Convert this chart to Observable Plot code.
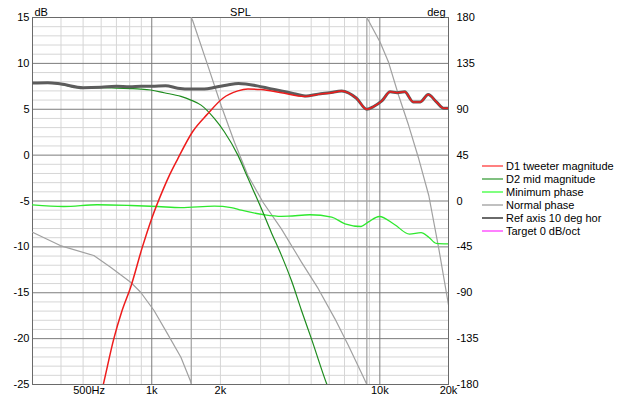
<!DOCTYPE html>
<html><head><meta charset="utf-8">
<script src="https://cdn.jsdelivr.net/npm/d3@7"></script>
<script src="https://cdn.jsdelivr.net/npm/@observablehq/plot@0.6"></script>
<style>
html,body{margin:0;padding:0;background:#fff;}
#wrap{position:relative;width:618px;height:399px;font-family:"Liberation Sans",Arial,sans-serif;font-size:11px;color:#000;}
#legend{position:absolute;left:482px;top:159px;}
.row{height:13.1px;display:flex;align-items:center;white-space:nowrap;}
.sw{width:21px;height:2px;margin-right:3px;}
</style></head><body><div id="wrap"></div>
<script>
// ---- data ----
const refFreq = [300,350,400,500,600,700,800,900,1000,1150,1300,1500,1700,1900,2150,2400,2900,3300,3700,4200,4700,5500,6000,6800,7900,8760,9400,10200,11100,11900,12850,14000,15050,16300,17700,19100,20000];
const refDb   = [7.85,7.9,7.75,7.35,7.4,7.5,7.45,7.5,7.5,7.55,7.3,7.2,7.2,7.4,7.65,7.8,7.55,7.25,7.0,6.7,6.45,6.7,6.8,7.0,6.2,5.0,5.3,5.9,6.9,6.8,6.9,5.8,5.8,6.6,5.8,5.1,5.1];

const d1Freq = [560,613,682,740,808,910,1000,1115,1200,1300,1510,1760,2050,2385,2640,3020,3700,4690,5500,6150,6800,7900,8760,9400,10200,11100,11900,12850,14000,15050,16300,17700,19100,20000];
const d1Db   = [-29,-25,-20,-17,-14.4,-10,-6.9,-3.9,-2.1,-0.4,2.55,4.5,6.2,7.0,7.2,7.15,6.8,6.4,6.65,6.8,7.0,6.2,5.0,5.3,5.9,6.9,6.8,6.9,5.8,5.8,6.6,5.8,5.1,5.1];

const d2Freq = [300,350,400,500,600,700,808,894,990,1133,1342,1485,1645,1880,2080,2385,2640,3020,3340,3700,4100,4530,5010,5840,6300];
const d2Db   = [7.85,7.9,7.7,7.3,7.35,7.3,7.25,7.2,7.1,6.8,6.4,6.0,5.45,4.0,2.55,0,-2.5,-5.8,-8.4,-10.9,-13.7,-16.9,-20,-24.9,-27];

const minFreq = [300,411,576,808,1060,1342,1881,2230,2470,3124,3700,3960,4930,6150,7033,8275,8917,9950,11590,13490,15160,16390,17650,20000];
const minDeg  = [-3.7,-5.4,-3.7,-4.4,-5.4,-6.5,-5.1,-6.4,-9.0,-13.5,-15.0,-14.9,-13.5,-15.9,-22.4,-25,-20.5,-15.2,-23,-32.5,-31,-35.5,-41.5,-42];

const normFreq = [300,397,557,660,808,894,1023,1173,1342,1475,1490,1490,1511,1760,2014,2305,2640,3074,3700,4310,4532,5370,6355,7280,8477,8770,8770,8830,10030,10920,12090,13380,14810,16390,18140,20000];
const normDeg  = [-30.6,-43.7,-53.5,-65,-79.7,-89.5,-107.4,-130.3,-153.2,-176,-180,180,177,133,93.7,57.7,25,-1.2,-27.3,-51.8,-60,-86,-115.6,-141.8,-172.9,-180,180,178.7,155.8,136,103.5,74,41.4,5.4,-47,-102];

const yTicks = [15,10,5,0,-5,-10,-15,-20,-25];
const xLabelTicks = [1000,2000,5000,10000,20000];
const hzTick = [500];
const majorX = [1000,10000];
const minorX = [400,500,600,700,800,900,2000,3000,4000,5000,6000,7000,8000,9000,20000];
const minorY = d3.range(-25,16,1).filter(v => v % 5 !== 0);
const majorY = [10,5,0,-5,-10,-15,-20];

const series = [
  {name:"D1 tweeter magnitude", legend:"#ff8080"},
  {name:"D2 mid magnitude", legend:"#80c080"},
  {name:"Minimum phase", legend:"#80ff80"},
  {name:"Normal phase", legend:"#c0c0c0"},
  {name:"Ref axis 10 deg hor", legend:"#6a6a6a"},
  {name:"Target 0 dB/oct", legend:"#ff80ff"}
];

const tbl = (fs, vs) => fs.map((f,i) => ({f, v: vs[i]}));
const ref = tbl(refFreq, refDb);
const d1 = tbl(d1Freq, d1Db);
const d2 = tbl(d2Freq, d2Db);
const minP = tbl(minFreq, minDeg);
const normP = tbl(normFreq, normDeg);
const degToDb = d => d.v / 9 - 5;

const chart = Plot.plot({
  width: 618, height: 399,
  marginLeft: 32, marginRight: 170, marginTop: 17, marginBottom: 15,
  x: {type: "log", domain: [300, 20000]},
  y: {domain: [-25, 15]},
  style: {fontFamily: '"Liberation Sans", Arial, sans-serif', fontSize: "11px", color: "#000", background: "#fff"},
  marks: [
    Plot.ruleX(minorX, {stroke: "#d6d6d6"}),
    Plot.ruleY(minorY, {stroke: "#d6d6d6"}),
    Plot.ruleX(majorX, {stroke: "#7c7c7c"}),
    Plot.ruleY(majorY, {stroke: "#7c7c7c"}),
    Plot.frame({stroke: "#6a6a6a"}),
    Plot.line(normP, {x: "f", y: degToDb, stroke: "#a0a0a0", strokeWidth: 1.2, clip: true}),
    Plot.line(minP, {x: "f", y: degToDb, stroke: "#2ee82e", strokeWidth: 1.3, curve: "monotone-x", clip: true}),
    Plot.line(d2, {x: "f", y: "v", stroke: "#1e8c1e", strokeWidth: 1.2, curve: "monotone-x", clip: true}),
    Plot.line(ref, {x: "f", y: "v", stroke: "#5c5c5c", strokeWidth: 3, curve: "monotone-x", clip: true}),
    Plot.line(d1, {x: "f", y: "v", stroke: "#ee1c1c", strokeWidth: 1.5, curve: "monotone-x", clip: true}),
    Plot.axisY(yTicks, {anchor: "left", tickSize: 0, tickPadding: 3, tickFormat: d => String(d), label: null}),
    Plot.axisY(yTicks, {anchor: "right", tickSize: 0, tickPadding: 8, tickFormat: d => String((d + 5) * 9), label: null}),
    Plot.axisX(xLabelTicks, {tickSize: 0, tickPadding: 2, tickFormat: d => (d / 1000) + "k", label: null}),
    Plot.text(hzTick, {x: d => d, text: d => d + "Hz", frameAnchor: "bottom", dy: 9, dx: 6}),
    Plot.text(["SPL"], {text: d => d, frameAnchor: "top", dy: -9}),
    Plot.text(["dB"], {text: d => d, frameAnchor: "top-left", textAnchor: "start", dx: 2, dy: -9}),
    Plot.text(["deg"], {text: d => d, frameAnchor: "top-right", textAnchor: "end", dx: -3, dy: -9})
  ]
});
const wrap = document.getElementById("wrap");
wrap.appendChild(chart);
const legend = document.createElement("div");
legend.id = "legend";
for (const s of series) {
  const row = document.createElement("div");
  row.className = "row";
  const sw = document.createElement("span");
  sw.className = "sw";
  sw.style.background = s.legend;
  const t = document.createElement("span");
  t.textContent = s.name;
  row.appendChild(sw); row.appendChild(t);
  legend.appendChild(row);
}
wrap.appendChild(legend);
</script></body></html>
